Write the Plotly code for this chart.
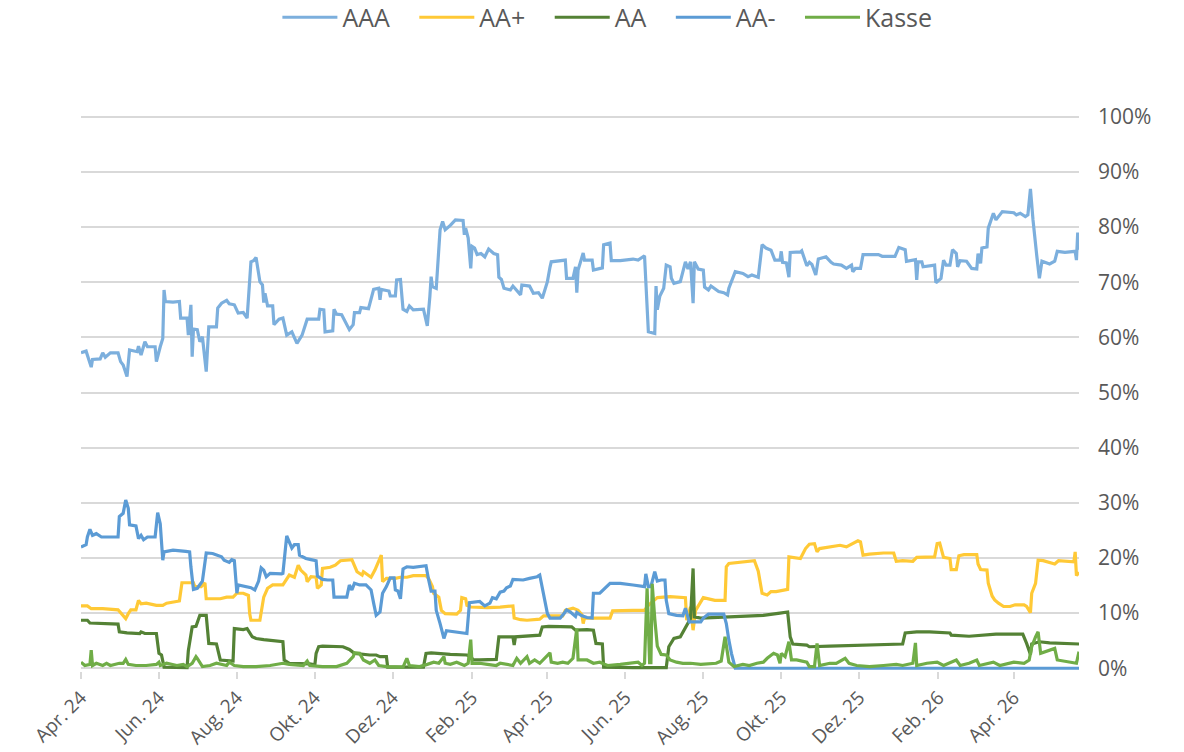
import plotly.graph_objects as go

# ---------------- data (percent) ----------------
aaa_dates = ["2024-04-01","2024-04-05","2024-04-09","2024-04-10","2024-04-16","2024-04-18","2024-04-20","2024-04-24","2024-04-30",
"2024-05-02","2024-05-04","2024-05-07","2024-05-09","2024-05-15","2024-05-16","2024-05-18","2024-05-21","2024-05-23","2024-05-29","2024-05-30",
"2024-06-02","2024-06-04","2024-06-05","2024-06-06","2024-06-12","2024-06-17","2024-06-18","2024-06-23","2024-06-24","2024-06-26","2024-06-27","2024-06-28",
"2024-07-01","2024-07-03","2024-07-05","2024-07-08","2024-07-10","2024-07-16","2024-07-17","2024-07-20","2024-07-24","2024-07-26","2024-07-30",
"2024-08-02","2024-08-06","2024-08-09","2024-08-12","2024-08-14","2024-08-16","2024-08-19","2024-08-21","2024-08-22","2024-08-23","2024-08-25","2024-08-29","2024-08-30",
"2024-09-03","2024-09-06","2024-09-09","2024-09-13","2024-09-17","2024-09-21","2024-09-25",
"2024-10-04","2024-10-05","2024-10-08","2024-10-09","2024-10-15","2024-10-16","2024-10-18","2024-10-22","2024-10-28","2024-10-31",
"2024-11-01","2024-11-05","2024-11-06","2024-11-12","2024-11-14","2024-11-16","2024-11-20","2024-11-21","2024-11-22","2024-11-28","2024-11-29",
"2024-12-03","2024-12-04","2024-12-07","2024-12-09","2024-12-12","2024-12-14","2024-12-17","2024-12-25","2024-12-28","2024-12-30","2024-12-31",
"2025-01-01","2025-01-04","2025-01-07","2025-01-09","2025-01-11","2025-01-15","2025-01-19","2025-01-25","2025-01-26","2025-01-27","2025-01-29","2025-01-31",
"2025-02-01","2025-02-03","2025-02-05","2025-02-08","2025-02-11","2025-02-14","2025-02-18","2025-02-21","2025-02-22","2025-02-24","2025-02-26",
"2025-03-03","2025-03-05","2025-03-11","2025-03-12","2025-03-18","2025-03-21","2025-03-25","2025-03-28",
"2025-04-01","2025-04-03","2025-04-04","2025-04-15","2025-04-16","2025-04-21","2025-04-23","2025-04-24","2025-04-25","2025-04-29","2025-04-30",
"2025-05-06","2025-05-07","2025-05-14","2025-05-15","2025-05-20","2025-05-21","2025-05-28",
"2025-06-07","2025-06-11","2025-06-16","2025-06-19","2025-06-24","2025-06-25","2025-06-26","2025-06-28",
"2025-07-01","2025-07-03","2025-07-06","2025-07-07","2025-07-09","2025-07-14","2025-07-18","2025-07-20","2025-07-22","2025-07-24","2025-07-25","2025-07-28",
"2025-08-01","2025-08-02","2025-08-05","2025-08-07","2025-08-13","2025-08-17","2025-08-20","2025-08-21","2025-08-26",
"2025-09-01","2025-09-05","2025-09-08","2025-09-13","2025-09-16","2025-09-19","2025-09-23","2025-09-26","2025-09-30",
"2025-10-01","2025-10-02","2025-10-05","2025-10-07","2025-10-08","2025-10-16","2025-10-17","2025-10-21","2025-10-23","2025-10-25","2025-10-28","2025-10-30",
"2025-11-05","2025-11-09","2025-11-11","2025-11-17","2025-11-21","2025-11-25","2025-11-26","2025-11-28",
"2025-12-02","2025-12-04","2025-12-16","2025-12-19","2025-12-29",
"2026-01-01","2026-01-06","2026-01-07","2026-01-14","2026-01-15","2026-01-16","2026-01-19","2026-01-20","2026-01-29","2026-01-30",
"2026-02-03","2026-02-05","2026-02-07","2026-02-10","2026-02-12","2026-02-15","2026-02-16","2026-02-18","2026-02-23","2026-02-27",
"2026-03-03","2026-03-04","2026-03-06","2026-03-07","2026-03-11","2026-03-12","2026-03-16","2026-03-18","2026-03-23",
"2026-04-01","2026-04-03","2026-04-06","2026-04-10","2026-04-12","2026-04-14","2026-04-16","2026-04-19","2026-04-21","2026-04-23","2026-04-29",
"2026-05-03","2026-05-05","2026-05-11","2026-05-19","2026-05-20","2026-05-21","2026-05-22"]
aaa_vals = [57.2,57.5,54.6,56.0,56.1,57.2,56.4,57.2,57.2,
55.6,55.0,52.9,57.7,57.4,58.4,56.8,59.2,58.3,58.3,55.6,
58.3,59.8,68.6,66.5,66.4,66.5,63.5,63.5,60.4,65.9,56.5,61.5,
61.4,59.2,60.1,53.8,61.9,61.9,65.3,66.2,66.7,66.1,65.9,
64.4,64.5,63.5,73.7,73.9,74.5,70.1,69.5,66.3,68.0,65.7,65.7,62.3,
63.3,63.5,60.4,61.0,58.9,60.4,63.3,
63.3,65.1,65.0,61.0,61.2,65.1,64.2,64.1,61.4,62.3,
64.5,64.5,65.4,65.2,66.8,68.7,68.9,66.8,68.7,68.4,67.5,
67.5,70.4,70.5,65.1,64.7,65.7,65.0,65.1,62.1,67.4,71.0,
69.2,68.9,79.5,81.0,79.5,80.3,81.3,81.2,78.6,79.8,78.0,72.5,
76.5,76.2,75.0,75.2,74.6,76.0,75.2,75.0,70.9,70.5,68.9,
68.6,69.3,67.7,69.5,69.3,68.0,68.1,67.1,
70.1,72.7,73.7,74.0,70.7,70.7,72.8,68.1,72.2,75.3,74.0,
74.0,72.2,72.6,76.8,77.1,73.9,73.9,
74.2,74.0,74.8,61.0,60.7,69.3,65.0,67.5,
68.9,73.1,72.8,70.7,69.8,70.1,73.7,72.4,73.7,66.2,73.7,72.4,
72.2,69.1,68.6,69.3,68.3,68.1,67.7,68.9,71.9,
71.6,71.0,71.3,70.9,76.8,76.2,75.8,74.0,74.0,
75.6,73.6,73.5,70.9,75.4,75.5,75.7,73.0,73.6,73.2,71.3,74.2,
74.6,73.6,73.3,73.1,72.5,73.1,71.9,72.5,
72.5,75.0,75.0,74.7,74.7,
76.3,75.9,73.8,74.1,70.4,73.7,73.7,72.8,73.1,69.9,
70.7,74.0,73.1,73.1,75.9,75.2,72.8,73.9,73.8,72.5,
72.4,75.2,73.4,76.2,76.4,79.8,82.5,81.3,82.8,
82.6,82.2,82.5,81.9,82.2,86.9,81.3,74.7,70.7,73.8,73.3,
73.8,75.6,75.4,75.6,74.0,79.0,75.9]

aap_dates = ["2024-04-01","2024-04-06","2024-04-09","2024-04-18","2024-04-30","2024-05-04","2024-05-06","2024-05-08","2024-05-10","2024-05-14",
"2024-05-16","2024-05-18","2024-05-22","2024-05-30","2024-06-04","2024-06-07","2024-06-11","2024-06-17","2024-06-19","2024-06-28","2024-06-29",
"2024-07-04","2024-07-07","2024-07-08","2024-07-19","2024-07-24","2024-07-29","2024-08-01","2024-08-06","2024-08-10","2024-08-11","2024-08-12",
"2024-08-19","2024-08-20","2024-08-22","2024-08-25","2024-08-29","2024-09-06","2024-09-11","2024-09-15","2024-09-18","2024-09-20","2024-09-24",
"2024-09-25","2024-09-28","2024-10-02","2024-10-03","2024-10-06","2024-10-07","2024-10-13","2024-10-17","2024-10-21","2024-10-30",
"2024-11-03","2024-11-07","2024-11-08","2024-11-12","2024-11-14","2024-11-17","2024-11-20","2024-11-22","2024-11-23","2024-11-26",
"2024-12-03","2024-12-07","2024-12-12","2024-12-17","2024-12-27","2024-12-29",
"2025-01-01","2025-01-02","2025-01-06","2025-01-08","2025-01-11","2025-01-20","2025-01-23","2025-01-24","2025-01-27","2025-01-28","2025-01-31",
"2025-02-13","2025-02-23","2025-03-05","2025-03-06","2025-03-11","2025-03-16","2025-03-26","2025-03-29",
"2025-04-13","2025-04-15","2025-04-21","2025-04-25","2025-04-28","2025-04-29","2025-04-30","2025-05-20","2025-05-22",
"2025-06-07","2025-06-16","2025-06-19","2025-06-23","2025-06-26","2025-07-06","2025-07-18","2025-07-19","2025-07-22","2025-07-24","2025-07-26",
"2025-08-01","2025-08-10","2025-08-18","2025-08-19","2025-08-21","2025-09-10","2025-09-13","2025-09-16","2025-09-20","2025-09-23","2025-09-27",
"2025-10-03","2025-10-06","2025-10-07","2025-10-16","2025-10-20","2025-10-23","2025-10-27","2025-10-29","2025-10-31",
"2025-11-08","2025-11-16","2025-11-21","2025-11-26","2025-11-30","2025-12-02","2025-12-04","2025-12-09","2025-12-20","2025-12-28","2025-12-30",
"2026-01-04","2026-01-12","2026-01-15","2026-01-25","2026-01-29","2026-01-31","2026-02-02","2026-02-05","2026-02-10","2026-02-11","2026-02-15",
"2026-02-17","2026-02-21","2026-03-03","2026-03-04","2026-03-06","2026-03-11","2026-03-12","2026-03-15","2026-03-17","2026-03-20","2026-03-24",
"2026-03-29","2026-04-02","2026-04-09","2026-04-11","2026-04-14","2026-04-15","2026-04-18","2026-04-20","2026-04-24",
"2026-05-03","2026-05-06","2026-05-18","2026-05-19","2026-05-20","2026-05-22"]
aap_vals = [11.3,11.3,10.8,10.8,10.6,9.6,9.0,9.9,10.6,10.6,
12.3,11.7,11.8,11.4,11.4,11.8,12.0,12.2,15.5,15.5,14.8,
14.8,15.5,12.6,12.6,12.9,12.9,13.6,13.6,13.2,9.9,8.7,
8.7,9.9,12.9,14.5,15.1,15.1,16.9,16.5,18.7,17.8,16.9,
15.7,16.6,16.5,14.5,15.1,18.1,18.3,18.7,19.5,19.7,
17.5,16.9,17.5,16.8,16.5,17.8,19.3,20.5,15.7,16.3,
16.3,16.5,16.5,16.8,16.8,16.3,
14.8,13.6,12.9,10.5,9.9,9.8,10.5,12.8,12.6,11.4,11.1,
11.0,11.1,11.3,9.1,8.8,8.7,8.9,9.5,
9.5,10.5,10.9,10.5,9.7,8.1,9.1,9.1,10.4,
10.5,10.5,11.4,12.1,12.8,13.0,12.8,8.7,11.1,6.9,10.5,
12.8,12.3,12.3,18.4,19.0,19.5,17.6,13.6,13.3,13.9,13.9,
14.2,14.3,20.2,19.9,21.7,22.5,22.6,21.1,21.7,
22.0,22.3,22.0,22.6,23.1,22.9,20.5,20.7,20.9,20.9,19.4,
19.5,19.4,20.1,20.1,20.2,22.6,22.7,20.1,19.9,17.9,17.9,
20.4,20.6,20.6,18.9,17.9,17.8,15.4,13.1,12.4,11.8,11.2,
11.2,11.5,11.5,11.2,10.1,13.6,15.4,19.6,19.5,
18.9,19.5,19.3,21.1,16.8,17.4]

aa_dates = ["2024-04-01","2024-04-06","2024-04-08","2024-04-18","2024-04-30","2024-05-01","2024-05-07","2024-05-17","2024-05-18","2024-05-21",
"2024-05-30","2024-06-01","2024-06-03","2024-06-05","2024-06-23","2024-06-24","2024-06-27","2024-06-30","2024-07-03","2024-07-08","2024-07-10",
"2024-07-16","2024-07-19","2024-07-29","2024-07-30","2024-08-06","2024-08-09","2024-08-13","2024-08-16","2024-08-22","2024-08-27","2024-09-06",
"2024-09-07","2024-09-11","2024-09-27","2024-10-01","2024-10-02","2024-10-04","2024-10-07","2024-10-23","2024-10-28","2024-10-31",
"2024-11-01","2024-11-13","2024-11-18","2024-11-21","2024-11-26","2024-11-27","2024-12-25","2024-12-27","2024-12-31",
"2025-01-15","2025-01-28","2025-01-31","2025-02-02","2025-02-07","2025-02-20","2025-02-22","2025-03-05","2025-03-06","2025-03-07",
"2025-03-26","2025-03-28","2025-04-02","2025-04-11","2025-04-20","2025-04-23","2025-05-02","2025-05-07","2025-05-09","2025-05-14","2025-05-15",
"2025-06-07","2025-07-03","2025-07-05","2025-07-09","2025-07-14","2025-07-18","2025-07-20","2025-07-22","2025-07-24","2025-07-25","2025-07-30",
"2025-08-11","2025-08-23","2025-09-17","2025-09-30","2025-10-06","2025-10-08","2025-10-10","2025-10-21","2025-10-23","2025-11-08",
"2025-12-04","2026-01-04","2026-01-06","2026-01-15","2026-01-25","2026-02-10","2026-02-11","2026-02-25","2026-03-18","2026-04-08",
"2026-04-11","2026-04-14","2026-04-15","2026-04-21","2026-04-29","2026-05-09","2026-05-22"]
aa_vals = [8.7,8.7,8.2,8.1,8.0,6.6,6.4,6.3,6.6,6.3,
6.3,2.7,2.4,0.2,0.1,3.2,7.5,7.6,9.6,9.6,4.5,
4.4,1.5,1.3,7.2,7.0,7.2,5.7,5.4,5.2,5.1,4.8,
1.5,0.9,0.8,0.6,2.7,3.9,4.0,3.9,3.4,3.0,
2.7,2.4,2.4,2.1,2.1,0.2,0.2,2.7,2.8,
2.5,2.4,2.1,1.5,1.5,1.6,5.7,5.7,4.2,5.7,
6.0,7.5,7.6,7.5,7.5,6.9,7.0,6.9,4.5,4.4,0.2,
0.1,0.1,3.9,5.4,5.7,7.5,8.1,9.0,18.1,9.3,9.1,
9.2,9.3,9.6,10.0,10.2,5.7,4.4,4.2,3.9,4.0,
4.2,4.4,6.4,6.6,6.6,6.4,6.0,5.8,6.2,6.2,
4.5,2.5,4.4,4.8,4.6,4.5,4.4]

aam_dates = ["2024-04-01","2024-04-05","2024-04-06","2024-04-08","2024-04-10","2024-04-13","2024-04-17","2024-04-30","2024-05-01","2024-05-04",
"2024-05-06","2024-05-08","2024-05-09","2024-05-14","2024-05-16","2024-05-18","2024-05-20","2024-05-23","2024-05-29","2024-05-31",
"2024-06-02","2024-06-04","2024-06-05","2024-06-12","2024-06-22","2024-06-25","2024-06-26","2024-06-28","2024-07-01","2024-07-05",
"2024-07-08","2024-07-13","2024-07-20","2024-07-22","2024-07-26","2024-07-28","2024-07-30","2024-07-31","2024-08-01","2024-08-02",
"2024-08-06","2024-08-12","2024-08-15","2024-08-18","2024-08-20","2024-08-22","2024-08-24","2024-08-27","2024-09-05","2024-09-06",
"2024-09-09","2024-09-13","2024-09-15","2024-09-18","2024-09-19","2024-09-22","2024-09-24","2024-09-28","2024-10-02","2024-10-03",
"2024-10-07","2024-10-11","2024-10-15","2024-10-16","2024-10-26","2024-10-28","2024-10-30","2024-11-01","2024-11-05","2024-11-10",
"2024-11-14","2024-11-16","2024-11-18","2024-11-21","2024-11-23","2024-11-26","2024-11-29","2024-12-02","2024-12-03","2024-12-05",
"2024-12-07","2024-12-09","2024-12-12","2024-12-17","2024-12-27","2024-12-29","2024-12-31","2025-01-03","2025-01-04","2025-01-07",
"2025-01-10","2025-01-12","2025-01-18","2025-01-23","2025-01-28","2025-01-30","2025-02-07","2025-02-11","2025-02-15","2025-02-17",
"2025-02-20","2025-02-23","2025-02-26","2025-02-28","2025-03-03","2025-03-05","2025-03-13","2025-03-18","2025-03-24","2025-03-26",
"2025-03-28","2025-04-01","2025-04-03","2025-04-11","2025-04-14","2025-04-16","2025-04-19","2025-04-23","2025-04-24","2025-04-28",
"2025-05-02","2025-05-06","2025-05-07","2025-05-12","2025-05-20","2025-05-28","2025-06-07","2025-06-16","2025-06-17","2025-06-19",
"2025-06-21","2025-06-24","2025-06-26","2025-06-29","2025-07-02","2025-07-03","2025-07-05","2025-07-11","2025-07-16","2025-07-18",
"2025-07-21","2025-07-30","2025-08-01","2025-08-05","2025-08-17","2025-08-19","2025-08-21","2025-08-23","2025-08-26","2026-05-22"]
aam_vals = [22.0,22.4,23.8,25.2,24.1,24.4,23.8,23.8,27.5,28.1,
30.5,29.0,26.0,25.8,23.5,24.1,23.3,23.8,23.8,28.2,
26.2,19.6,21.1,21.4,21.2,21.1,18.4,14.3,14.5,15.8,
20.9,20.8,20.2,19.6,19.2,19.7,19.5,15.4,13.6,15.1,
14.9,14.6,14.2,15.8,18.2,17.8,16.6,17.2,17.1,17.2,
24.0,21.8,22.4,22.4,20.5,20.2,19.9,19.7,19.5,16.7,
16.1,16.0,16.0,12.9,12.9,15.1,14.2,15.4,15.1,15.1,
14.2,11.8,9.6,10.2,13.6,14.8,16.4,16.4,14.2,14.0,
12.6,18.0,18.4,18.3,18.6,16.1,14.0,14.0,10.5,8.1,
5.4,6.8,6.6,6.4,6.3,11.9,12.1,11.3,11.8,12.8,
12.6,13.8,14.0,14.6,14.9,16.1,16.0,16.3,16.6,16.9,
14.6,9.9,9.1,9.1,9.9,10.6,10.2,9.4,10.1,9.5,
9.2,9.1,13.6,13.6,15.4,15.4,15.1,14.8,17.1,14.8,
14.8,17.5,15.8,16.0,16.0,12.3,9.9,9.6,9.5,10.9,
8.4,8.4,9.1,9.8,9.8,8.1,5.1,2.7,0.0,0.0]

kasse_dates = ["2024-04-01","2024-04-04","2024-04-08","2024-04-09","2024-04-10","2024-04-13","2024-04-18","2024-04-21","2024-04-24","2024-05-01",
"2024-05-04","2024-05-06","2024-05-08","2024-05-14","2024-05-22","2024-05-30","2024-06-01","2024-06-02","2024-06-07","2024-06-15",
"2024-06-20","2024-06-23","2024-06-27","2024-06-30","2024-07-01","2024-07-03","2024-07-05","2024-07-11","2024-07-16","2024-07-24",
"2024-07-26","2024-07-30","2024-08-06","2024-08-16","2024-08-27","2024-09-06","2024-09-11","2024-09-22","2024-09-25","2024-09-27",
"2024-10-07","2024-10-18","2024-10-26","2024-10-31","2024-11-01","2024-11-05","2024-11-08","2024-11-13","2024-11-17","2024-11-20",
"2024-11-26","2024-12-09","2024-12-12","2024-12-14","2024-12-22","2024-12-28","2025-01-02","2025-01-06","2025-01-10","2025-01-11",
"2025-01-15","2025-01-20","2025-01-26","2025-01-29","2025-01-31","2025-02-01","2025-02-07","2025-02-13","2025-02-20","2025-02-23",
"2025-03-05","2025-03-08","2025-03-11","2025-03-16","2025-03-18","2025-03-22","2025-03-26","2025-04-03","2025-04-04","2025-04-09",
"2025-04-13","2025-04-17","2025-04-21","2025-04-24","2025-04-25","2025-05-02","2025-05-07","2025-05-12","2025-05-18","2025-05-28",
"2025-06-07","2025-06-11","2025-06-14","2025-06-16","2025-06-18","2025-06-20","2025-06-21","2025-06-22","2025-06-24","2025-06-26",
"2025-06-29","2025-07-03","2025-07-06","2025-07-11","2025-07-16","2025-07-22","2025-07-30","2025-08-06","2025-08-11","2025-08-15",
"2025-08-18","2025-08-21","2025-08-25","2025-09-01","2025-09-06","2025-09-12","2025-09-17","2025-09-20","2025-09-22","2025-09-25",
"2025-09-28","2025-09-30","2025-10-01","2025-10-04","2025-10-07","2025-10-09","2025-10-13","2025-10-21","2025-10-23","2025-10-27",
"2025-10-29","2025-10-31","2025-11-08","2025-11-13","2025-11-20","2025-11-23","2025-11-29","2025-12-09","2025-12-20","2025-12-30",
"2026-01-04","2026-01-12","2026-01-14","2026-01-15","2026-01-23","2026-01-31","2026-02-05","2026-02-15","2026-02-18","2026-02-25",
"2026-03-03","2026-03-05","2026-03-16","2026-03-21","2026-04-01","2026-04-09","2026-04-13","2026-04-15","2026-04-18","2026-04-20",
"2026-04-22","2026-04-26","2026-05-03","2026-05-05","2026-05-10","2026-05-18","2026-05-20","2026-05-22"]
kasse_vals = [1.1,0.5,0.7,3.3,0.5,0.9,0.5,0.9,0.5,0.9,
0.9,1.6,0.7,0.5,0.5,0.7,1.1,0.5,0.9,0.5,
0.7,0.3,0.9,2.1,1.8,0.9,0.3,0.5,0.9,0.5,
1.1,0.5,0.3,0.3,0.5,0.9,0.7,0.5,1.3,0.5,
0.3,0.3,0.9,2.1,2.8,2.7,1.5,0.9,1.5,0.5,
0.3,0.2,1.8,0.5,0.3,0.7,1.1,0.9,2.1,0.9,
0.7,1.1,0.5,0.9,5.2,0.9,0.9,0.7,0.5,0.9,
0.5,1.8,0.9,2.1,0.9,1.5,0.9,2.8,1.1,0.9,
1.1,0.9,1.8,7.2,1.5,1.5,0.9,1.1,0.5,0.7,
0.9,1.1,0.5,0.9,14.5,1.0,1.0,15.3,9.0,4.0,
2.5,2.4,1.5,1.1,0.9,0.9,0.7,0.9,0.9,1.3,
5.7,1.1,0.3,0.7,0.5,0.9,1.1,1.8,2.1,2.7,
2.4,0.9,2.7,2.1,4.8,1.5,1.5,1.1,0.3,0.3,
4.5,0.5,0.9,0.9,1.8,0.9,0.5,0.3,0.5,0.7,
0.5,0.9,4.6,0.5,0.9,1.1,0.5,1.5,0.5,0.9,
1.5,0.5,1.1,0.5,1.1,0.9,1.5,3.9,5.7,6.6,
2.7,3.0,3.6,1.5,1.3,1.1,0.9,3.0]

tick_dates = ["2024-04-01","2024-06-01","2024-08-01","2024-10-01","2024-12-01","2025-02-01","2025-04-01",
              "2025-06-01","2025-08-01","2025-10-01","2025-12-01","2026-02-01","2026-04-01"]
tick_labels = ["Apr. 24","Jun. 24","Aug. 24","Okt. 24","Dez. 24","Feb. 25","Apr. 25",
               "Jun. 25","Aug. 25","Okt. 25","Dez. 25","Feb. 26","Apr. 26"]
y_ticks = [0, 10, 20, 30, 40, 50, 60, 70, 80, 90, 100]
y_labels = ["0%", "10%", "20%", "30%", "40%", "50%", "60%", "70%", "80%", "90%", "100%"]

series = [
    ("AAA", aaa_dates, aaa_vals, "#7cafdd"),
    ("AA+", aap_dates, aap_vals, "#ffc936"),
    ("AA", aa_dates, aa_vals, "#548235"),
    ("AA-", aam_dates, aam_vals, "#5b9bd5"),
    ("Kasse", kasse_dates, kasse_vals, "#70ad47"),
]

FONT = "Open Sans"
TXT = "#595959"
GRID = "#d9d9d9"
PAD = "\u00a0\u00a0\u00a0"  # legend spacing between entries

fig = go.Figure()
for i, (name, d, v, c) in enumerate(series):
    label = name + (PAD if i < len(series) - 1 else "")
    fig.add_trace(go.Scatter(x=d, y=v, name=label, mode="lines",
                             line=dict(color=c, width=3.2)))

fig.update_layout(
    width=1184, height=752,
    margin=dict(l=81, r=105, t=114, b=81, autoexpand=False),
    paper_bgcolor="white", plot_bgcolor="white",
    font=dict(family=FONT, color=TXT, size=20),
    showlegend=True,
    legend=dict(orientation="h", xref="container", yref="container",
                x=0.513, xanchor="center", y=1 - 17.5 / 752, yanchor="middle",
                font=dict(family=FONT, size=25, color=TXT),
                itemwidth=55, traceorder="normal", bgcolor="rgba(0,0,0,0)"),
    xaxis=dict(type="date", range=["2024-04-01", "2026-05-22"], automargin=False,
               tickmode="array", tickvals=tick_dates, ticktext=tick_labels,
               tickangle=-45, ticks="outside", ticklen=7, tickwidth=1.5, tickcolor=GRID,
               showgrid=False, zeroline=False, showline=False, ticklabelstandoff=0,
               tickfont=dict(family=FONT, size=19, color=TXT)),
    yaxis=dict(side="right", range=[-0.5, 100.5], tickmode="array", automargin=False,
               tickvals=y_ticks, ticktext=y_labels,
               showgrid=True, gridcolor=GRID, gridwidth=1.5, zeroline=False,
               ticks="", ticklabelstandoff=18,
               tickfont=dict(family=FONT, size=21, color=TXT)),
)

fig.write_html("out.html", config={"displayModeBar": False},
               post_script="document.body.style.margin='0';document.body.style.overflow='hidden';")
